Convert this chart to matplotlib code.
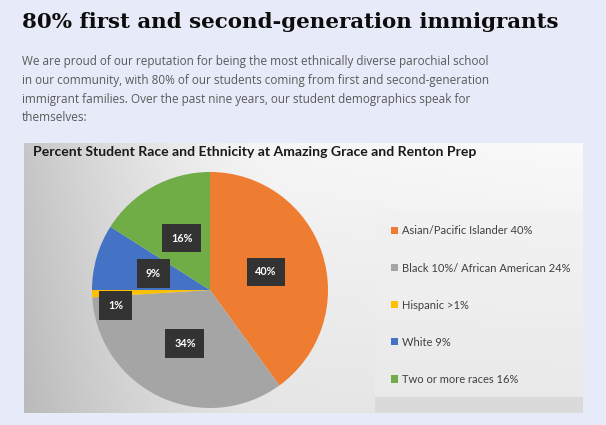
import matplotlib.pyplot as plt
import numpy as np

# data
categories = ['Asian/Pacific Islander', 'Black / African American', 'Hispanic', 'White', 'Two or more races']
values = [40, 34, 1, 9, 16]
slice_labels = ['40%', '34%', '1%', '9%', '16%']
legend_labels = ['Asian/Pacific Islander 40%', 'Black 10%/ African American 24%',
                 'Hispanic >1%', 'White 9%', 'Two or more races 16%']
colors = ['#EE7D31', '#A5A5A5', '#FFC000', '#4472C4', '#70AD47']

headline = '80% first and second-generation immigrants'
para_lines = [
    'We are proud of our reputation for being the most ethnically diverse parochial school',
    'in our community, with 80% of our students coming from first and second-generation',
    'immigrant families. Over the past nine years, our student demographics speak for',
    'themselves:',
]
chart_title = 'Percent Student Race and Ethnicity at Amazing Grace and Renton Prep'

W, H = 606, 425
fig = plt.figure(figsize=(W / 100, H / 100), dpi=100)
fig.patch.set_facecolor('#e7eaf8')


def box(x0, y0, x1, y1):
    # pixel box (top-left origin) -> figure fraction rect
    return [x0 / W, 1 - y1 / H, (x1 - x0) / W, (y1 - y0) / H]


# headline + paragraph
fig.text(22 / W, 1 - 22 / H, headline, fontsize=15.4, fontweight='bold',
         family='DejaVu Serif', color='#0d0d0d', va='center', ha='left')
for i, line in enumerate(para_lines):
    fig.text(22 / W, 1 - (62 + i * 18.5) / H, line, fontsize=8.5,
             family='Open Sans', color='#5a5a5a', va='center', ha='left')

# chart background (screenshot-like gray gradient)
bg = fig.add_axes(box(24, 143, 583, 413))
yy, xx = np.mgrid[0:1:200j, 0:1:400j]
shade = 0.95 - 0.17 * np.clip((0.45 - xx) / 0.45, 0, 1) ** 1.5 - 0.05 * yy
shade = shade + 0.03 * xx * (1 - yy)
bg.imshow(np.dstack([shade, shade, shade]), aspect='auto', extent=(0, 1, 0, 1),
          vmin=0, vmax=1)
# faint legend panel and bottom strip
bg.add_patch(plt.Rectangle(((375 - 24) / 559, (413 - 397) / 270), (583 - 375) / 559,
                           (397 - 211) / 270, color='#f0f0f0', alpha=0.35, lw=0))
bg.add_patch(plt.Rectangle(((375 - 24) / 559, 0), (583 - 375) / 559,
                           (413 - 397) / 270, color='#dadada', lw=0))
bg.set_xlim(0, 1)
bg.set_ylim(0, 1)
bg.axis('off')

fig.text(33 / W, 1 - 152 / H, chart_title, fontsize=10.1, fontweight='bold',
         family='Lato', color='#1a1a1a', va='center', ha='left')

# pie
r = 118
ax = fig.add_axes(box(210 - r, 290 - r, 210 + r, 290 + r))
wedges, texts, autotexts = ax.pie(values, colors=colors, startangle=90, counterclock=False,
                                  radius=1, labels=None, autopct='%d%%', pctdistance=0.5,
                                  wedgeprops=dict(linewidth=0))
for t, lab in zip(autotexts, slice_labels):
    t.set_text(lab)
    t.set_color('white')
    t.set_fontweight('bold')
    t.set_fontsize(7.8)
    t.set_family('Lato')
    t.set_bbox(dict(boxstyle='square,pad=0.8', facecolor='#333333', edgecolor='none'))
# small slice label sits outside-left, as in the reference
autotexts[2].set_position((-0.80, -0.13))
ax.set_xlim(-1, 1)
ax.set_ylim(-1, 1)
ax.set_aspect('equal')
ax.axis('off')

leg = fig.legend(wedges, legend_labels, loc='upper left',
                 bbox_to_anchor=(387 / W, 1 - 221 / H), frameon=False,
                 prop={'family': 'Lato', 'size': 8.0}, labelcolor='#404040',
                 handlelength=0.62, handleheight=0.62, handletextpad=0.35,
                 labelspacing=2.35, borderaxespad=0)

fig.savefig('out.png', dpi=100, facecolor=fig.get_facecolor())
